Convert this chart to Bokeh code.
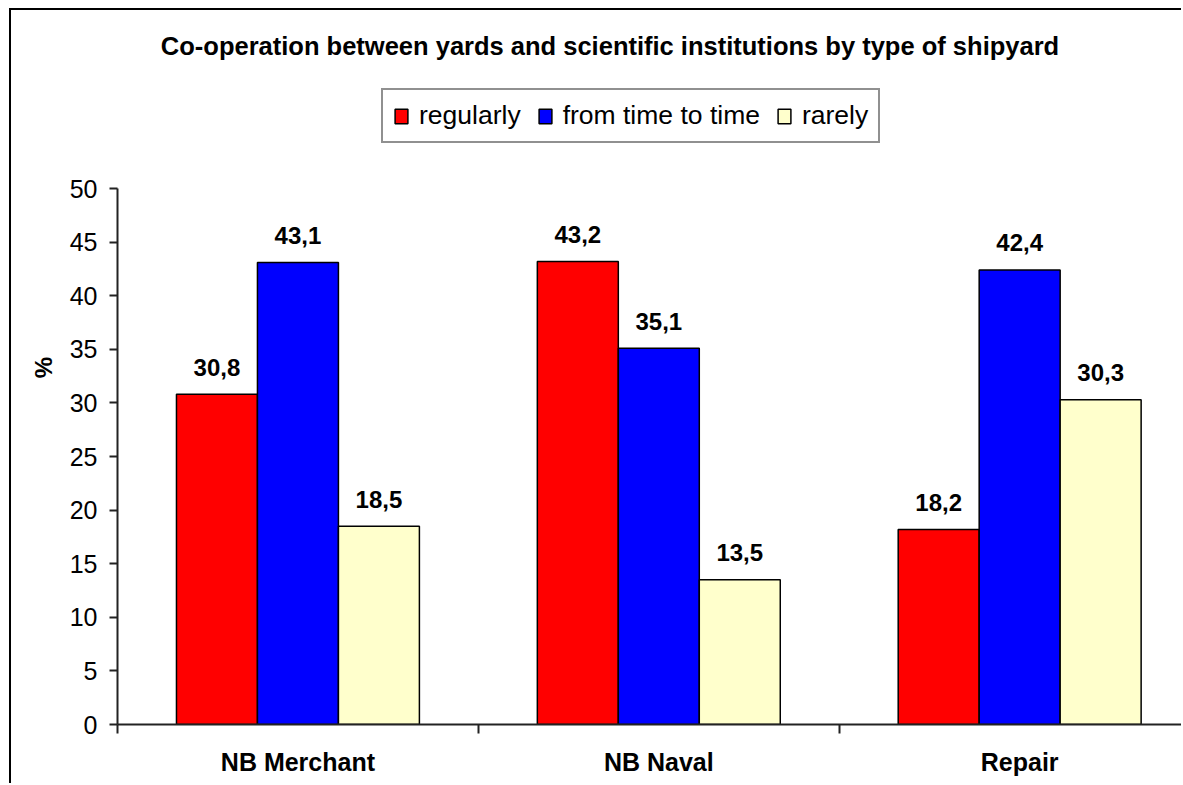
from bokeh.plotting import figure
from bokeh.models import (ColumnDataSource, Range1d, FixedTicker, Legend, LegendItem, Label)
from bokeh.transform import dodge
from bokeh.core.properties import value
from bokeh.embed import file_html
from bokeh.resources import INLINE

categories = ["NB Merchant", "NB Naval", "Repair"]
series_names = ["regularly", "from time to time", "rarely"]
regularly = [30.8, 43.2, 18.2]
from_time_to_time = [43.1, 35.1, 42.4]
rarely = [18.5, 13.5, 30.3]
y_ticks = [0, 5, 10, 15, 20, 25, 30, 35, 40, 45, 50]
colors = ["#FF0000", "#0000FF", "#FFFFCC"]
title_text = "Co-operation between yards and scientific institutions by type of shipyard"

FONT = "Liberation Sans"

xs = list(range(len(categories)))
def fmt(v):
    return f"{v:.1f}".replace(".", ",")

src = ColumnDataSource(dict(
    x=xs,
    regularly=regularly,
    ftt=from_time_to_time,
    rarely=rarely,
    l_regularly=[fmt(v) for v in regularly],
    l_ftt=[fmt(v) for v in from_time_to_time],
    l_rarely=[fmt(v) for v in rarely],
))

# page: margin-left 9, margin-top 8, border 2 -> inner origin (11, 10)
W, H = 1172, 775
FRAME_LEFT = 106      # page x 117
FRAME_BOTTOM = 61     # page y 724
y_top = 50 + (188 - 10) / 10.72  # range end so 50 sits at page y 188

p = figure(width=W, height=H, output_backend="svg", toolbar_location=None, title=None,
           x_range=Range1d(-0.5, 2.454), y_range=Range1d(0, y_top),
           min_border_left=FRAME_LEFT, min_border_right=0, min_border_top=0,
           min_border_bottom=FRAME_BOTTOM)
p.styles = {"border-left": "2px solid black", "border-top": "2px solid black",
            "margin-left": "9px", "margin-top": "8px", "overflow": "hidden"}
p.background_fill_color = "white"
p.border_fill_color = "white"
p.outline_line_color = None
p.xgrid.grid_line_color = None
p.ygrid.grid_line_color = None

bw = 0.2244
offsets = [-bw, 0.0, bw]
fields = ["regularly", "ftt", "rarely"]
lfields = ["l_regularly", "l_ftt", "l_rarely"]
items = []
for off, f, lf, c, name in zip(offsets, fields, lfields, colors, series_names):
    r = p.vbar(x=dodge("x", off), top=f, width=bw, source=src,
               fill_color=c, line_color="black", line_width=1.5)
    p.text(x=dodge("x", off), y=f, text=lf, source=src,
           text_align="center", text_baseline="alphabetic", y_offset=-27,
           text_font=value(FONT), text_font_size="24px", text_font_style="bold",
           text_color="black")
    items.append(LegendItem(label=name, renderers=[r]))

legend = Legend(items=items, orientation="horizontal", location=(264, 581),
                label_text_font=FONT, label_text_font_size="26.5px",
                label_text_color="black",
                glyph_width=16, glyph_height=18, label_standoff=10, spacing=16,
                padding=10, margin=0, border_line_color="#222222",
                border_line_width=2, background_fill_color="white",
                background_fill_alpha=1.0)
p.add_layout(legend, "center")

title = Label(x=492.5, y=679, x_units="screen", y_units="screen", text=title_text,
              text_align="center", text_baseline="middle", text_font=FONT,
              text_font_size="25.5px", text_font_style="bold", text_color="black")
p.add_layout(title)

# Y axis
yaxis = p.yaxis[0]
yaxis.ticker = FixedTicker(ticks=y_ticks)
yaxis.bounds = (0, 50)
yaxis.axis_label = "%"
yaxis.axis_label_text_font = FONT
yaxis.axis_label_text_font_size = "24px"
yaxis.axis_label_text_font_style = "bold"
yaxis.axis_label_text_color = "black"
yaxis.axis_label_standoff = 10
yaxis.major_label_text_font = FONT
yaxis.major_label_text_font_size = "25px"
yaxis.major_label_text_color = "black"
yaxis.major_label_standoff = 12
yaxis.axis_line_color = "#222222"
yaxis.axis_line_width = 2
yaxis.major_tick_line_color = "#222222"
yaxis.major_tick_line_width = 2
yaxis.major_tick_in = 0
yaxis.major_tick_out = 8
yaxis.minor_tick_line_color = None

# X axis
xaxis = p.xaxis[0]
xaxis.ticker = FixedTicker(ticks=xs, minor_ticks=[-0.5, 0.5, 1.5])
xaxis.major_label_overrides = {i: c for i, c in zip(xs, categories)}
xaxis.major_label_text_font = FONT
xaxis.major_label_text_font_size = "25px"
xaxis.major_label_text_font_style = "bold"
xaxis.major_label_text_color = "black"
xaxis.major_label_standoff = 14
xaxis.major_tick_line_color = None
xaxis.major_tick_in = 0
xaxis.major_tick_out = 0
xaxis.minor_tick_line_color = "#222222"
xaxis.minor_tick_line_width = 2
xaxis.minor_tick_in = 0
xaxis.minor_tick_out = 9
xaxis.axis_line_color = "#222222"
xaxis.axis_line_width = 2

open("out.html", "w").write(file_html(p, INLINE))
